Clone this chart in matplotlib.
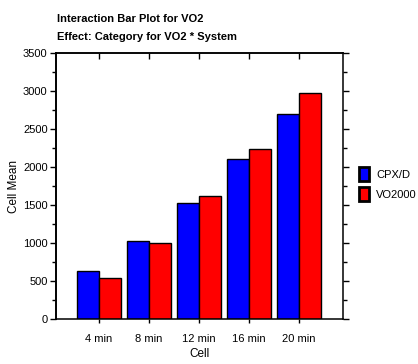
import matplotlib

matplotlib.use("Agg")
import matplotlib.pyplot as plt  # noqa: E402
import numpy as np  # noqa: E402
from matplotlib.ticker import MultipleLocator  # noqa: E402

plt.rcParams["font.family"] = ["Liberation Sans", "DejaVu Sans"]

# values
cells = ["4 min", "8 min", "12 min", "16 min", "20 min"]
cpxd = [632, 1030, 1525, 2105, 2695]
vo2000 = [543, 996, 1615, 2238, 2975]
series_names = ["CPX/D", "VO2000"]
series_colors = ["#0000ff", "#ff0000"]

fig = plt.figure(figsize=(4.18, 3.64), dpi=100)
ax = fig.add_axes([0.134, 0.1236, 0.6866, 0.7308])

x = np.arange(len(cells))
w = 0.445
ax.bar(x - w / 2, cpxd, w, color=series_colors[0], edgecolor="black",
       linewidth=1.0, label=series_names[0])
ax.bar(x + w / 2, vo2000, w, color=series_colors[1], edgecolor="black",
       linewidth=1.0, label=series_names[1])

ax.set_xlim(-0.86, 4.88)
ax.set_ylim(0, 3500)
ax.yaxis.set_major_locator(MultipleLocator(500))
ax.yaxis.set_minor_locator(MultipleLocator(250))
ax.set_xticks(x)
ax.set_xticklabels(cells)

for s in ax.spines.values():
    s.set_linewidth(1.1)
ax.spines["left"].set_linewidth(1.4)

ax.tick_params(axis="y", which="major", direction="out", length=4, width=1,
               labelsize=8, pad=2, right=True)
ax.tick_params(axis="y", which="minor", direction="out", length=3, width=1,
               right=True)
ax.tick_params(axis="x", which="major", direction="out", length=3, width=1,
               labelsize=8, pad=8)

# top spine ticks point inward, like the reference
top = ax.secondary_xaxis("top")
top.set_xticks(x)
top.set_xticklabels([])
top.tick_params(direction="in", length=4, width=1)
top.spines["top"].set_linewidth(1.1)

ax.set_ylabel("Cell Mean", fontsize=8.5, labelpad=2)
ax.set_xlabel("Cell", fontsize=8.5, labelpad=3)

fig.text(0.137, 0.94, "Interaction Bar Plot for VO2", fontsize=8,
         fontweight="bold", va="baseline", ha="left")
fig.text(0.137, 0.89, "Effect: Category for VO2 * System", fontsize=8,
         fontweight="bold", va="baseline", ha="left")

leg = ax.legend(loc="center left", bbox_to_anchor=(1.02, 0.506),
                frameon=False, fontsize=8, handlelength=0.95,
                handleheight=1.55, handletextpad=0.6, labelspacing=0.55)
for p in leg.get_patches():
    p.set_linewidth(2.0)

fig.savefig("out.png", dpi=100)
